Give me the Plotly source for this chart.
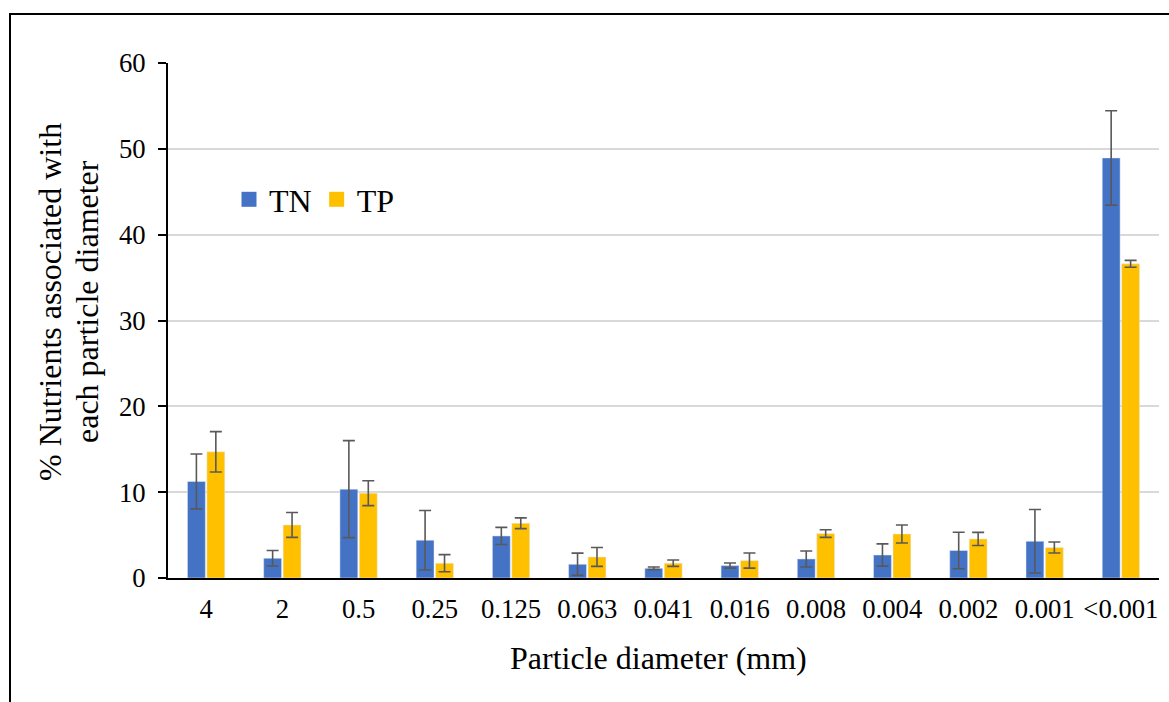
import plotly.graph_objects as go

categories = ["4", "2", "0.5", "0.25", "0.125", "0.063", "0.041", "0.016",
              "0.008", "0.004", "0.002", "0.001", "<0.001"]
tn_values = [11.25, 2.3, 10.35, 4.4, 4.9, 1.6, 1.13, 1.45, 2.22, 2.68, 3.2, 4.28, 48.94]
tn_errors = [3.2, 0.9, 5.65, 3.47, 1.0, 1.3, 0.15, 0.3, 0.93, 1.3, 2.13, 3.7, 5.5]
tp_values = [14.7, 6.18, 9.88, 1.72, 6.38, 2.45, 1.72, 2.03, 5.18, 5.13, 4.55, 3.55, 36.6]
tp_errors = [2.35, 1.45, 1.45, 1.0, 0.63, 1.1, 0.37, 0.88, 0.45, 1.05, 0.76, 0.64, 0.4]
y_ticks = [0, 10, 20, 30, 40, 50, 60]

FONT = "Liberation Serif"
TN_COLOR, TP_COLOR = "#4472C4", "#FFC000"
W, H = 1169, 702
ML, MR, MT, MB = 168, 10, 63, 124
PW, PH = W - ML - MR, H - MT - MB


def px_x(p):
    return (p - ML) / PW


def px_y(p):
    return (H - MB - p) / PH


err_style = dict(type="data", color="#595959", thickness=1.6, width=6, visible=True)

fig = go.Figure()
fig.add_trace(go.Bar(
    x=categories, y=tn_values, name="TN", marker_color=TN_COLOR, showlegend=False,
    error_y=dict(array=tn_errors, **err_style),
))
fig.add_trace(go.Bar(
    x=categories, y=tp_values, name="TP", marker_color=TP_COLOR, showlegend=False,
    error_y=dict(array=tp_errors, **err_style),
))
# legend entries with larger square swatches
for name, color in [("TN", TN_COLOR), ("TP", TP_COLOR)]:
    fig.add_trace(go.Scatter(
        x=[None], y=[None], mode="markers", name=name,
        marker=dict(symbol="square", size=15, color=color, line=dict(width=0)),
    ))

fig.update_layout(
    width=W, height=H,
    margin=dict(l=ML, r=MR, t=MT, b=MB, pad=0),
    paper_bgcolor="white", plot_bgcolor="white",
    font=dict(family=FONT, color="black", size=27),
    barmode="group", bargap=0.49, bargroupgap=0.08,
    showlegend=True,
    legend=dict(orientation="h", x=px_x(229), y=px_y(172), xanchor="left", yanchor="top",
                font=dict(size=32, family=FONT, color="black"), bgcolor="rgba(0,0,0,0)",
                itemwidth=30, tracegroupgap=0),
    xaxis=dict(
        showline=True, linecolor="black", linewidth=2, ticks="",
        tickfont=dict(size=26.7, family=FONT, color="black"), showgrid=False,
        ticklabelstandoff=6,
    ),
    yaxis=dict(
        range=[0, 60], tickvals=y_ticks, showline=True, linecolor="black", linewidth=2,
        ticks="outside", ticklen=8, tickwidth=2, tickcolor="black",
        showgrid=True, gridcolor="#d9d9d9", gridwidth=1.5, zeroline=False,
        tickfont=dict(size=26.7, family=FONT, color="black"),
        ticklabelstandoff=7,
    ),
    annotations=[
        dict(text="% Nutrients associated with", textangle=-90,
             x=px_x(50), y=px_y(302), xref="paper", yref="paper",
             xanchor="center", yanchor="middle", showarrow=False,
             font=dict(size=32, family=FONT, color="black")),
        dict(text="each particle diameter", textangle=-90,
             x=px_x(87), y=px_y(302), xref="paper", yref="paper",
             xanchor="center", yanchor="middle", showarrow=False,
             font=dict(size=32, family=FONT, color="black")),
        dict(text="Particle diameter (mm)",
             x=px_x(658), y=px_y(658), xref="paper", yref="paper",
             xanchor="center", yanchor="middle", showarrow=False,
             font=dict(size=32, family=FONT, color="black")),
    ],
    shapes=[dict(
        type="rect", xref="paper", yref="paper",
        x0=px_x(10), x1=px_x(1190), y0=px_y(730), y1=px_y(14),
        line=dict(color="black", width=2), fillcolor="rgba(0,0,0,0)", layer="above",
    )],
)

fig.write_html(
    "out.html",
    config={"displayModeBar": False},
    post_script="document.body.style.margin='0px';document.body.style.overflow='hidden';",
)
